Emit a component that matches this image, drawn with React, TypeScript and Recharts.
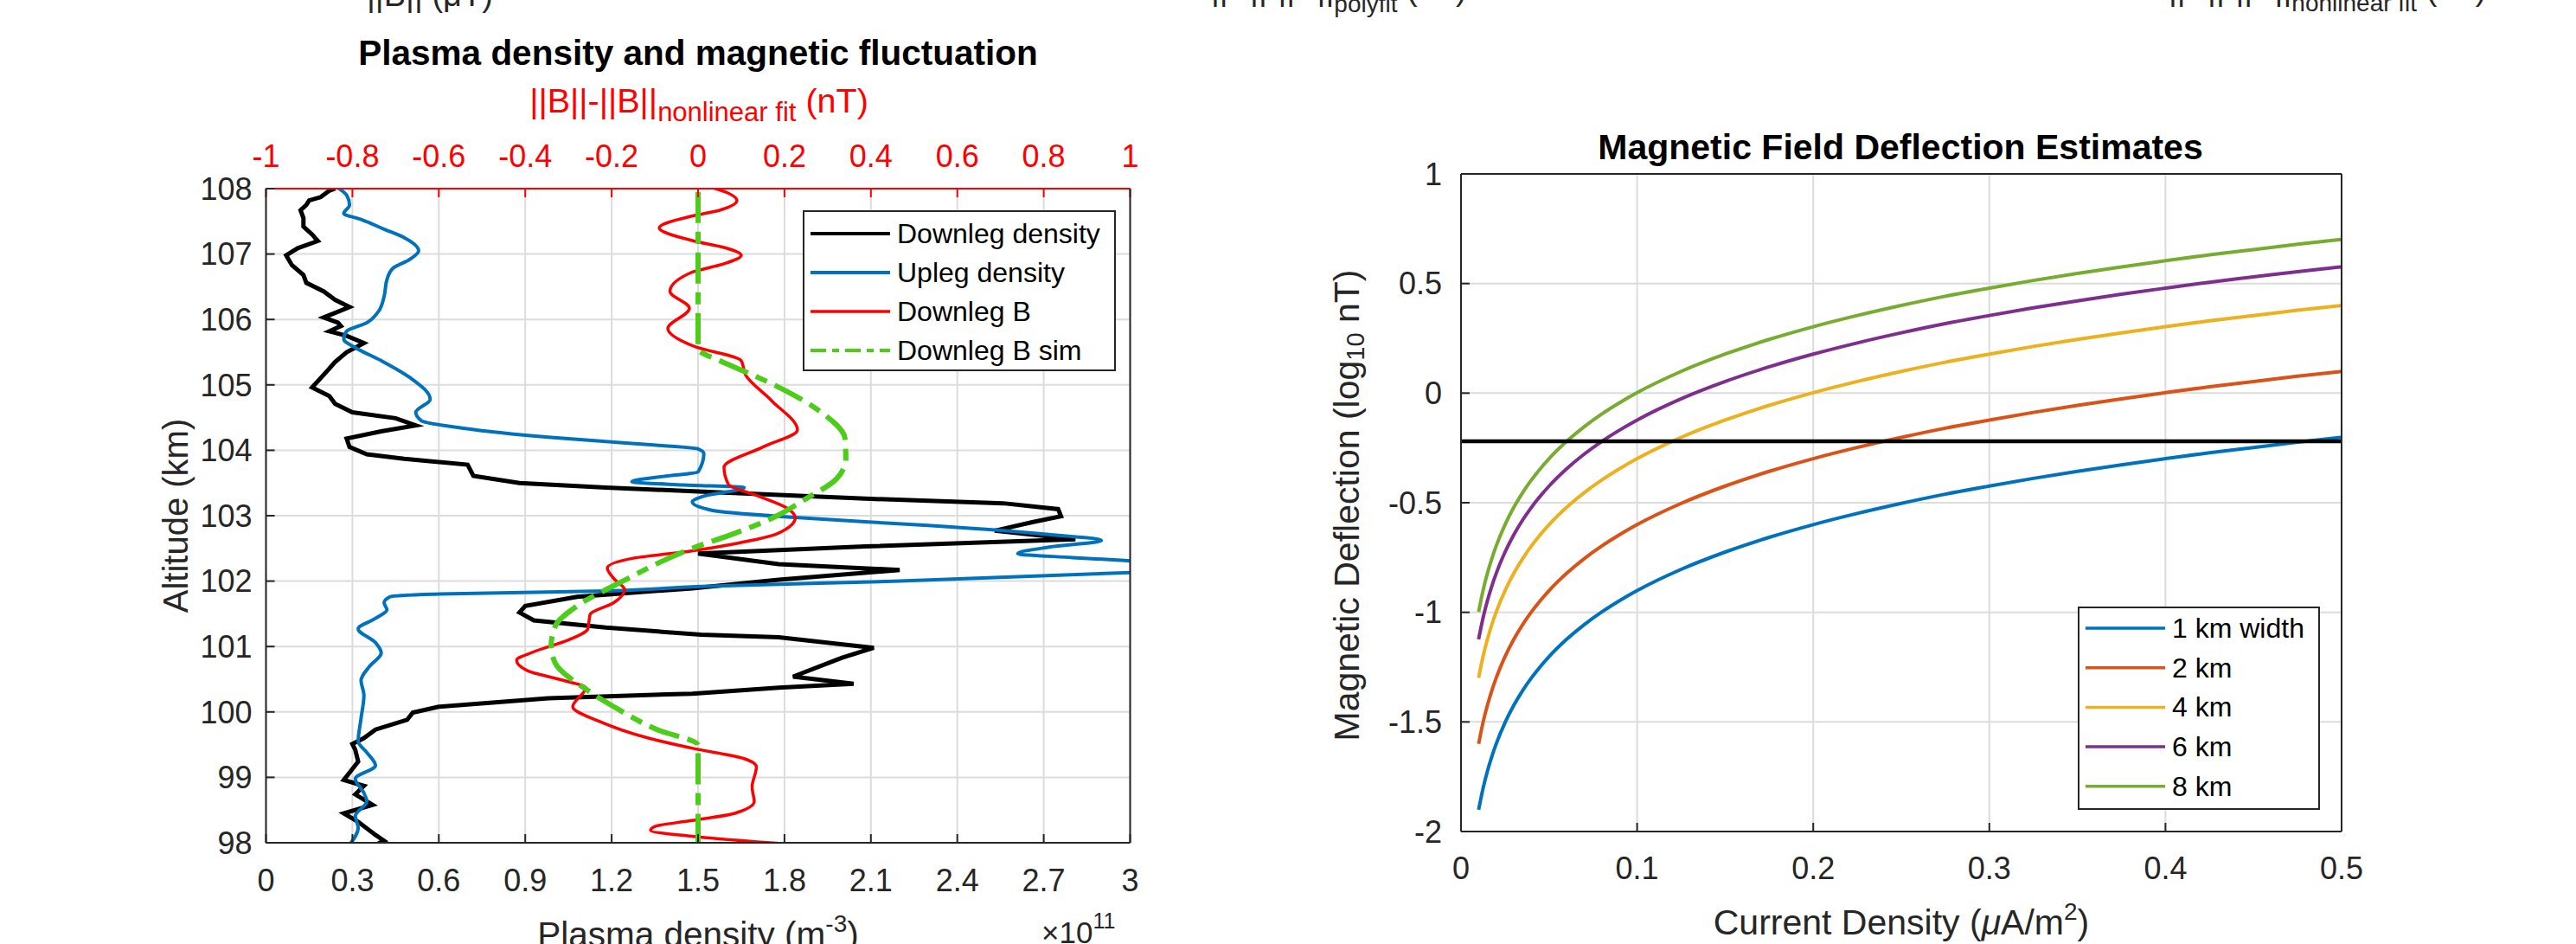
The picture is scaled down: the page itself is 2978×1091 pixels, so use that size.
import React from "react";
import {
  LineChart, Line, XAxis, YAxis, CartesianGrid, ReferenceLine, Legend,
} from "recharts";

const FONT = "'Liberation Sans', Arial, Helvetica, sans-serif";
const AXIS = "#262626";
const GRID = "#dcdcdc";

// ---------- left panel: altitude profiles, pairs of [altitude km, value]
const ALT_TICKS = [98, 99, 100, 101, 102, 103, 104, 105, 106, 107, 108];
const DENSITY_TICKS = [0, 0.3, 0.6, 0.9, 1.2, 1.5, 1.8, 2.1, 2.4, 2.7, 3];
const FLUCT_TICKS = [-1, -0.8, -0.6, -0.4, -0.2, 0, 0.2, 0.4, 0.6, 0.8, 1];

// plasma density, x 10^11 m^-3
const DOWNLEG_DENSITY = [
  [108.0, 0.24], [107.97, 0.22], [107.87, 0.19], [107.82, 0.15], [107.75, 0.14], [107.67, 0.12],
  [107.55, 0.13], [107.42, 0.13], [107.3, 0.16], [107.2, 0.18], [107.09, 0.11], [106.98, 0.07],
  [106.83, 0.09], [106.68, 0.13], [106.56, 0.14], [106.43, 0.2], [106.3, 0.24], [106.19, 0.29],
  [106.1, 0.24], [106.03, 0.2], [105.95, 0.25], [105.9, 0.26], [105.82, 0.22], [105.75, 0.28],
  [105.64, 0.34], [105.5, 0.28], [105.35, 0.24], [105.2, 0.21], [104.96, 0.16], [104.83, 0.22],
  [104.71, 0.24], [104.58, 0.3], [104.49, 0.45], [104.38, 0.52], [104.29, 0.4], [104.18, 0.28],
  [104.05, 0.29], [103.94, 0.35], [103.87, 0.48], [103.78, 0.7], [103.61, 0.72], [103.5, 0.88],
  [103.43, 1.18], [103.37, 1.5], [103.26, 2.08], [103.19, 2.56], [103.1, 2.75], [102.99, 2.76],
  [102.9, 2.66], [102.77, 2.53], [102.64, 2.81], [102.53, 2.08], [102.42, 1.5], [102.26, 1.78],
  [102.17, 2.2], [102.02, 1.78], [101.89, 1.48], [101.76, 1.08], [101.62, 0.9], [101.52, 0.88],
  [101.4, 0.93], [101.29, 1.18], [101.18, 1.51], [101.14, 1.78], [100.98, 2.11], [100.83, 2.0],
  [100.54, 1.83], [100.43, 2.04], [100.37, 1.78], [100.28, 1.48], [100.21, 0.98], [100.08, 0.6],
  [99.99, 0.51], [99.88, 0.49], [99.73, 0.38], [99.6, 0.34], [99.51, 0.3], [99.42, 0.31],
  [99.24, 0.32], [98.96, 0.27], [98.87, 0.34], [98.74, 0.31], [98.58, 0.37], [98.45, 0.27],
  [98.32, 0.32], [98.12, 0.38], [98.03, 0.41], [97.99, 0.39],
];

const UPLEG_DENSITY = [
  [108.04, 0.24], [107.9, 0.28], [107.75, 0.29], [107.62, 0.27], [107.53, 0.33], [107.38, 0.41],
  [107.25, 0.48], [107.05, 0.53], [106.92, 0.5], [106.78, 0.44], [106.61, 0.42], [106.35, 0.41],
  [106.12, 0.39], [105.95, 0.35], [105.82, 0.28], [105.7, 0.27], [105.57, 0.31], [105.37, 0.4],
  [105.11, 0.5], [104.78, 0.57], [104.58, 0.52], [104.45, 0.54], [104.34, 0.68], [104.2, 0.98],
  [104.1, 1.28], [104.02, 1.5], [103.95, 1.52], [103.67, 1.5], [103.6, 1.38], [103.52, 1.27],
  [103.47, 1.45], [103.43, 1.66], [103.3, 1.52], [103.21, 1.48], [103.08, 1.55], [102.97, 1.85],
  [102.85, 2.3], [102.72, 2.7], [102.62, 2.9], [102.52, 2.72], [102.42, 2.61], [102.36, 2.8],
  [102.31, 3.0], [102.22, 3.4], [102.13, 3.0], [102.0, 2.2], [101.92, 1.51], [101.85, 1.18],
  [101.8, 0.58], [101.76, 0.43], [101.67, 0.41], [101.56, 0.42], [101.43, 0.38], [101.27, 0.32],
  [101.06, 0.38], [100.9, 0.4], [100.7, 0.36], [100.48, 0.33], [100.26, 0.34], [99.9, 0.33],
  [99.55, 0.32], [99.38, 0.35], [99.18, 0.38], [98.98, 0.31], [98.76, 0.34], [98.63, 0.35],
  [98.41, 0.31], [98.23, 0.32], [97.97, 0.29],
];

// ||B|| - ||B||nonlinear fit, nT (top axis)
const DOWNLEG_B = [
  [108.04, 0.02], [107.93, 0.07], [107.82, 0.09], [107.67, 0.05], [107.58, -0.015], [107.4, -0.09],
  [107.2, -0.01], [107.1, 0.06], [106.98, 0.1], [106.85, 0.06], [106.72, -0.015], [106.43, -0.065],
  [106.17, -0.02], [105.86, -0.07], [105.59, -0.01], [105.37, 0.1], [105.15, 0.11], [104.76, 0.17],
  [104.31, 0.23], [104.05, 0.15], [103.74, 0.06], [103.48, 0.07], [103.3, 0.14], [103.12, 0.205],
  [102.97, 0.225], [102.73, 0.185], [102.57, 0.085], [102.46, -0.015], [102.35, -0.15], [102.2, -0.21],
  [102.04, -0.195], [101.87, -0.17], [101.67, -0.195], [101.49, -0.25], [101.27, -0.255], [101.1, -0.3],
  [100.92, -0.38], [100.79, -0.42], [100.63, -0.395], [100.48, -0.31], [100.37, -0.26], [100.08, -0.29],
  [99.86, -0.23], [99.6, -0.115], [99.44, -0.01], [99.29, 0.105], [99.16, 0.135], [98.85, 0.125],
  [98.63, 0.13], [98.45, 0.085], [98.34, -0.015], [98.25, -0.1], [98.19, -0.11], [98.1, -0.015],
  [97.97, 0.23],
];

const DOWNLEG_B_SIM = [
  [107.95, 0], [107.0, 0], [106.0, 0], [105.55, 0], [105.37, 0.05], [105.17, 0.12], [104.97, 0.185],
  [104.58, 0.285], [104.18, 0.34], [103.87, 0.342], [103.56, 0.32], [103.26, 0.25], [102.99, 0.18],
  [102.73, 0.085], [102.51, -0.01], [101.98, -0.18], [101.62, -0.28], [101.32, -0.33], [101.01, -0.34],
  [100.74, -0.33], [100.35, -0.26], [100.08, -0.195], [99.73, -0.095], [99.49, 0], [98.0, 0],
];

// ---------- right panel: deflection (log10 nT) vs current density (uA/m^2)
const CURRENT_DENSITY = [
  0.01, 0.0125, 0.015, 0.0175, 0.02, 0.025, 0.03, 0.035, 0.04, 0.045, 0.05, 0.06, 0.07, 0.08, 0.09, 0.1,
  0.125, 0.15, 0.175, 0.2, 0.225, 0.25, 0.275, 0.3, 0.325, 0.35, 0.375, 0.4, 0.425, 0.45, 0.475, 0.5,
];
const DEFL_1KM = [
  -1.901, -1.804, -1.725, -1.658, -1.6, -1.503, -1.424, -1.357, -1.299, -1.248, -1.202, -1.123, -1.056, -0.998, -0.947, -0.901,
  -0.804, -0.725, -0.658, -0.6, -0.549, -0.503, -0.461, -0.424, -0.389, -0.357, -0.327, -0.299, -0.272, -0.248, -0.224, -0.202,
];
const DEFL_2KM = [
  -1.6, -1.503, -1.424, -1.357, -1.299, -1.202, -1.123, -1.056, -0.998, -0.947, -0.901, -0.822, -0.755, -0.697, -0.646, -0.6,
  -0.503, -0.424, -0.357, -0.299, -0.248, -0.202, -0.16, -0.123, -0.088, -0.056, -0.026, 0.002, 0.029, 0.053, 0.077, 0.099,
];
const DEFL_4KM = [
  -1.299, -1.202, -1.123, -1.056, -0.998, -0.901, -0.822, -0.755, -0.697, -0.646, -0.6, -0.521, -0.454, -0.396, -0.345, -0.299,
  -0.202, -0.123, -0.056, 0.002, 0.053, 0.099, 0.141, 0.178, 0.213, 0.245, 0.275, 0.303, 0.33, 0.354, 0.378, 0.4,
];
const DEFL_6KM = [
  -1.123, -1.026, -0.947, -0.88, -0.822, -0.725, -0.646, -0.579, -0.521, -0.47, -0.424, -0.345, -0.278, -0.22, -0.169, -0.123,
  -0.026, 0.053, 0.12, 0.178, 0.229, 0.275, 0.317, 0.354, 0.389, 0.421, 0.451, 0.479, 0.506, 0.53, 0.554, 0.576,
];
const DEFL_8KM = [
  -0.998, -0.901, -0.822, -0.755, -0.697, -0.6, -0.521, -0.454, -0.396, -0.345, -0.299, -0.22, -0.153, -0.095, -0.044, 0.002,
  0.099, 0.178, 0.245, 0.303, 0.354, 0.4, 0.442, 0.479, 0.514, 0.546, 0.576, 0.604, 0.631, 0.655, 0.679, 0.701,
];
const THRESHOLD = -0.22;
const CURRENT_TICKS = [0, 0.1, 0.2, 0.3, 0.4, 0.5];
const DEFL_TICKS = [-2, -1.5, -1, -0.5, 0, 0.5, 1];

const toRows = (pairs: number[][]) => pairs.map(([alt, v]) => ({ alt, v }));

const deflRows = CURRENT_DENSITY.map((x, i) => ({
  x, w1: DEFL_1KM[i], w2: DEFL_2KM[i], w4: DEFL_4KM[i], w6: DEFL_6KM[i], w8: DEFL_8KM[i],
}));

const profileLegend = [
  { label: "Downleg density", color: "#000000", width: 4 },
  { label: "Upleg density", color: "#0072BD", width: 4 },
  { label: "Downleg B", color: "#FF0000", width: 3.5 },
  { label: "Downleg B sim", color: "#4DCC1A", width: 4, dash: "18 7 8 7" },
];

const widthSeries = [
  { key: "w1", label: "1 km width", color: "#0072BD" },
  { key: "w2", label: "2 km", color: "#D95319" },
  { key: "w4", label: "4 km", color: "#EDB120" },
  { key: "w6", label: "6 km", color: "#7E2F8E" },
  { key: "w8", label: "8 km", color: "#77AC30" },
];

const tickStyle = { fontSize: 36, fill: AXIS, fontFamily: FONT };
const lineStyle = { stroke: AXIS, strokeWidth: 2 };

type LegendItem = { label: string; color: string; width?: number; dash?: string };

function LegendBox({ items, width, height, rowTop, rowGap }: {
  items: LegendItem[]; width: number; height: number; rowTop: number; rowGap: number;
}) {
  return (
    <svg width={width} height={height} style={{ display: "block" }}>
      <rect x={1} y={1} width={width - 2} height={height - 2} fill="#fff" stroke={AXIS} strokeWidth={2} />
      {items.map((it, i) => {
        const y = rowTop + i * rowGap;
        return (
          <g key={it.label}>
            <line x1={9} x2={101} y1={y} y2={y} stroke={it.color} strokeWidth={it.width ?? 3.5} strokeDasharray={it.dash} />
            <text x={109} y={y} dominantBaseline="central" fontSize={32} fill="#000" fontFamily={FONT}>{it.label}</text>
          </g>
        );
      })}
    </svg>
  );
}

function ProfilePanel() {
  return (
    <LineChart width={1400} height={1091} layout="vertical"
      margin={{ top: 158, right: 92.5, bottom: 57, left: 207.5 }}>
      <CartesianGrid xAxisId="d" yAxisId="alt" stroke={GRID} strokeWidth={2} />
      <XAxis xAxisId="d" type="number" orientation="bottom" domain={[0, 3]} ticks={DENSITY_TICKS}
        allowDataOverflow interval={0} height={60} tickSize={-10} tickMargin={40}
        tick={tickStyle} axisLine={lineStyle} tickLine={lineStyle} />
      <XAxis xAxisId="b" type="number" orientation="top" domain={[-1, 1]} ticks={FLUCT_TICKS}
        allowDataOverflow interval={0} height={60} tickSize={-10} tickMargin={35}
        tick={{ ...tickStyle, fill: "#FF0000" }}
        axisLine={{ stroke: "#FF0000", strokeWidth: 2 }} tickLine={{ stroke: "#FF0000", strokeWidth: 2 }} />
      <YAxis yAxisId="alt" type="number" dataKey="alt" domain={[98, 108]} ticks={ALT_TICKS} reversed
        allowDataOverflow interval={0} width={100} tickSize={-10} tickMargin={26}
        tick={tickStyle} axisLine={lineStyle} tickLine={lineStyle} />
      <YAxis yAxisId="box" type="number" orientation="right" domain={[98, 108]} reversed width={1}
        tick={false} tickLine={false} axisLine={lineStyle} />

      <Line xAxisId="d" yAxisId="alt" data={toRows(DOWNLEG_DENSITY)} dataKey="v" type="linear"
        stroke="#000" strokeWidth={5} dot={false} isAnimationActive={false} />
      <Line xAxisId="d" yAxisId="alt" data={toRows(UPLEG_DENSITY)} dataKey="v" type="monotone"
        stroke="#0072BD" strokeWidth={4} dot={false} isAnimationActive={false} />
      <Line xAxisId="b" yAxisId="alt" data={toRows(DOWNLEG_B)} dataKey="v" type="monotone"
        stroke="#FF0000" strokeWidth={3.5} dot={false} isAnimationActive={false} />
      <Line xAxisId="b" yAxisId="alt" data={toRows(DOWNLEG_B_SIM)} dataKey="v" type="monotone"
        stroke="#4DCC1A" strokeWidth={6} strokeDasharray="36 10 14 10" dot={false} isAnimationActive={false} />

      <Legend layout="horizontal" verticalAlign="middle" align="center"
        wrapperStyle={{ left: 928, top: 243 }}
        content={() => <LegendBox items={profileLegend} width={362} height={186} rowTop={27} rowGap={45} />} />
    </LineChart>
  );
}

function DeflectionPanel() {
  return (
    <LineChart width={1578} height={1091} data={deflRows}
      margin={{ top: 200, right: 270, bottom: 70, left: 189 }}>
      <CartesianGrid stroke={GRID} strokeWidth={2} />
      <XAxis dataKey="x" type="number" domain={[0, 0.5]} ticks={CURRENT_TICKS} interval={0}
        height={60} tickSize={-10} tickMargin={39} tick={tickStyle} axisLine={lineStyle} tickLine={lineStyle} />
      <XAxis xAxisId="top" type="number" orientation="top" domain={[0, 0.5]} ticks={CURRENT_TICKS}
        height={1} tickSize={-10} tick={false} axisLine={lineStyle} tickLine={lineStyle} />
      <YAxis type="number" domain={[-2, 1]} ticks={DEFL_TICKS} interval={0} width={100}
        tickSize={-10} tickMargin={32} tick={tickStyle} axisLine={lineStyle} tickLine={lineStyle} />
      <YAxis yAxisId="right" type="number" orientation="right" domain={[-2, 1]} ticks={DEFL_TICKS}
        width={1} tickSize={-10} tick={false} axisLine={lineStyle} tickLine={lineStyle} />

      {widthSeries.map((s) => (
        <Line key={s.key} dataKey={s.key} type="monotone" stroke={s.color} strokeWidth={4}
          dot={false} isAnimationActive={false} />
      ))}
      <ReferenceLine y={THRESHOLD} stroke="#000" strokeWidth={4.5} />

      <Legend layout="horizontal" verticalAlign="middle" align="center"
        wrapperStyle={{ left: 1002, top: 701 }}
        content={() => <LegendBox items={widthSeries.map((s) => ({ ...s, width: 3.5 }))} width={280} height={235} rowTop={25} rowGap={45.7} />} />
    </LineChart>
  );
}

// titles and axis labels with sub/superscripts
function Labels() {
  const t = { fontFamily: FONT, fill: AXIS };
  return (
    <svg width={2978} height={1091} style={{ position: "absolute", left: 0, top: 0, pointerEvents: "none" }}>
      {/* labels of the panels above, cut by the frame */}
      <text x={424} y={7} fontSize={38} {...t}>||B|| (μT)</text>
      <text x={1400} y={0} fontSize={38} {...t}>||B||-||B||<tspan fontSize={28} dy={14}>polyfit</tspan><tspan dy={-14}> (nT)</tspan></text>
      <text x={2507} y={0} fontSize={38} {...t}>||B||-||B||<tspan fontSize={28} dy={13}>nonlinear fit</tspan><tspan dy={-13}> (nT)</tspan></text>

      <text x={807} y={75} fontSize={40.5} fontWeight="bold" textAnchor="middle" fontFamily={FONT} fill="#000">
        Plasma density and magnetic fluctuation
      </text>
      <text x={808} y={130} fontSize={39.5} textAnchor="middle" fontFamily={FONT} fill="#FF0000">
        ||B||-||B||<tspan fontSize={31} dy={10}>nonlinear fit</tspan><tspan dy={-10}> (nT)</tspan>
      </text>
      <text x={203} y={596} fontSize={40} textAnchor="middle" dominantBaseline="central"
        transform="rotate(-90 203 596)" {...t}>Altitude (km)</text>
      <text x={807} y={1094} fontSize={40.5} textAnchor="middle" {...t}>
        Plasma density (m<tspan fontSize={28} dy={-17}>-3</tspan><tspan dy={17}>)</tspan>
      </text>
      <text x={1204} y={1090} fontSize={35} {...t}>×10<tspan fontSize={25} dy={-17}>11</tspan></text>

      <text x={2197} y={184} fontSize={41} fontWeight="bold" textAnchor="middle" fontFamily={FONT} fill="#000">
        Magnetic Field Deflection Estimates
      </text>
      <text x={1557} y={584} fontSize={41} textAnchor="middle" dominantBaseline="central"
        transform="rotate(-90 1557 584)" {...t}>
        Magnetic Deflection (log<tspan fontSize={29} dy={10}>10</tspan><tspan dy={-10}> nT)</tspan>
      </text>
      <text x={2198} y={1080} fontSize={41} textAnchor="middle" {...t}>
        Current Density (<tspan fontStyle="italic">μ</tspan>A/m<tspan fontSize={28} dy={-17}>2</tspan><tspan dy={17}>)</tspan>
      </text>
    </svg>
  );
}

export default function App() {
  return (
    <div style={{ position: "absolute", left: 0, top: 0, width: 2978, height: 1091, background: "#fff", overflow: "hidden", fontFamily: FONT }}>
      <div style={{ position: "absolute", left: 0, top: 0 }}>
        <ProfilePanel />
      </div>
      <div style={{ position: "absolute", left: 1400, top: 0 }}>
        <DeflectionPanel />
      </div>
      <Labels />
    </div>
  );
}
